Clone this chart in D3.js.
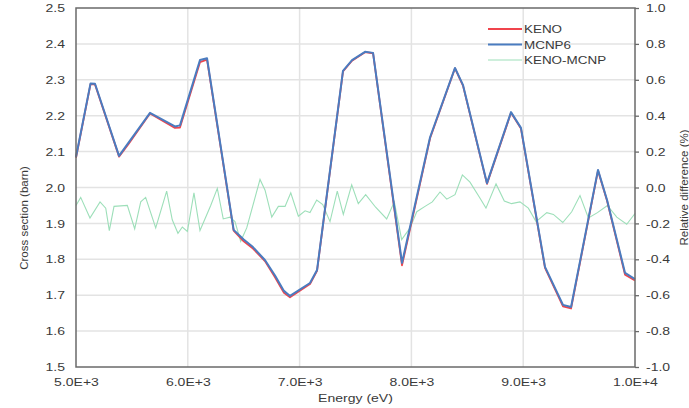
<!DOCTYPE html>
<html>
<head>
<meta charset="utf-8">
<script src="https://cdn.jsdelivr.net/npm/d3@7"></script>
<style>
  html, body { margin: 0; padding: 0; background: #fff; }
  svg { display: block; font-family: "Liberation Sans", Arial, sans-serif; }
</style>
</head>
<body>
<div id="chart"></div>
<script>
// ----------------------------
// Data
// ----------------------------

// energy (eV) and cross section (barn), MCNP6
const mcnpEnergy = [5000, 5130, 5170, 5385, 5470, 5662, 5885, 5930, 6109, 6172, 6410, 6500, 6583, 6690, 6780, 6860, 6914, 7093, 7156, 7388, 7469, 7585, 7657, 7916, 8167, 8390, 8462, 8676, 8891, 8980, 9195, 9356, 9428, 9669, 9750, 9911, 10000];
const mcnpValues = [2.085, 2.290, 2.289, 2.088, 2.125, 2.208, 2.170, 2.173, 2.355, 2.360, 1.882, 1.855, 1.834, 1.798, 1.755, 1.712, 1.698, 1.734, 1.770, 2.325, 2.355, 2.378, 2.375, 1.790, 2.140, 2.333, 2.285, 2.012, 2.210, 2.166, 1.779, 1.673, 1.667, 2.049, 1.965, 1.762, 1.745];

// KENO, same energies
const kenoValues = [2.083, 2.288, 2.287, 2.086, 2.121, 2.206, 2.166, 2.167, 2.349, 2.356, 1.880, 1.850, 1.830, 1.795, 1.750, 1.707, 1.694, 1.731, 1.768, 2.323, 2.353, 2.377, 2.374, 1.783, 2.137, 2.332, 2.283, 2.010, 2.208, 2.164, 1.776, 1.669, 1.663, 2.047, 1.963, 1.757, 1.741];

// relative difference (%), KENO-MCNP
const diffEnergy = [5000, 5042, 5125, 5215, 5266, 5298, 5340, 5459, 5525, 5579, 5623, 5713, 5811, 5861, 5912, 5951, 5996, 6055, 6109, 6205, 6264, 6317, 6377, 6422, 6473, 6527, 6646, 6691, 6751, 6810, 6870, 6921, 6989, 7049, 7093, 7153, 7207, 7272, 7337, 7391, 7466, 7525, 7591, 7680, 7779, 7847, 7913, 7988, 8048, 8122, 8187, 8256, 8316, 8390, 8456, 8524, 8614, 8667, 8757, 8831, 8896, 8971, 9046, 9115, 9211, 9270, 9354, 9434, 9508, 9583, 9664, 9753, 9837, 9926, 10000];
const diffValues = [-0.100, -0.055, -0.170, -0.080, -0.115, -0.240, -0.105, -0.100, -0.230, -0.080, -0.055, -0.225, -0.020, -0.180, -0.255, -0.220, -0.245, -0.030, -0.240, -0.100, -0.005, -0.175, -0.165, -0.190, -0.300, -0.225, 0.045, -0.015, -0.165, -0.105, -0.105, -0.030, -0.160, -0.130, -0.140, -0.070, -0.095, -0.190, -0.020, -0.150, 0.015, -0.090, -0.040, -0.110, -0.175, -0.080, -0.290, -0.225, -0.135, -0.105, -0.080, -0.025, -0.065, -0.040, 0.070, 0.030, -0.060, -0.115, 0.020, -0.075, -0.090, -0.080, -0.115, -0.190, -0.140, -0.150, -0.195, -0.135, -0.045, -0.170, -0.140, -0.100, -0.165, -0.205, -0.145];

// axis ticks
const xTicks = [5000, 6000, 7000, 8000, 9000, 10000];
const xTickLabels = ["5.0E+3", "6.0E+3", "7.0E+3", "8.0E+3", "9.0E+3", "1.0E+4"];
const leftTicks = [1.5, 1.6, 1.7, 1.8, 1.9, 2.0, 2.1, 2.2, 2.3, 2.4, 2.5];
const rightTicks = [-1.0, -0.8, -0.6, -0.4, -0.2, 0.0, 0.2, 0.4, 0.6, 0.8, 1.0];

const seriesNames = ["KENO", "MCNP6", "KENO-MCNP"];
const seriesColors = ["#f0444c", "#4a7cc0", "#9ddfb9"];

// ----------------------------
// Chart
// ----------------------------

const width = 689;
const height = 408;
const marginTop = 8;
const marginRight = 54;
const marginBottom = 41;
const marginLeft = 76;

const x = d3.scaleLinear()
    .domain([5000, 10000])
    .range([marginLeft, width - marginRight]);

const yLeft = d3.scaleLinear()
    .domain([1.5, 2.5])
    .range([height - marginBottom, marginTop]);

const yRight = d3.scaleLinear()
    .domain([-1, 1])
    .range([height - marginBottom, marginTop]);

const svg = d3.select("#chart").append("svg")
    .attr("width", width)
    .attr("height", height)
    .attr("viewBox", [0, 0, width, height]);

// the text in the picture is a bit wider than normal, stretch it sideways
function stretch(sel, origin, k = 1.22) {
    sel.style("transform-box", "fill-box")
        .style("transform-origin", origin)
        .style("transform", `scaleX(${k})`);
}

// grid lines
svg.append("g")
    .attr("stroke", "#e3e3e3")
    .attr("stroke-width", 1.5)
    .selectAll("line")
    .data(leftTicks.slice(1, -1))
    .join("line")
        .attr("x1", marginLeft)
        .attr("x2", width - marginRight)
        .attr("y1", d => yLeft(d))
        .attr("y2", d => yLeft(d));

svg.append("g")
    .attr("stroke", "#e3e3e3")
    .attr("stroke-width", 1.5)
    .selectAll("line")
    .data(xTicks.slice(1, -1))
    .join("line")
        .attr("y1", marginTop)
        .attr("y2", height - marginBottom)
        .attr("x1", d => x(d))
        .attr("x2", d => x(d));

// lines
const diffLine = d3.line()
    .x((d, i) => x(diffEnergy[i]))
    .y(d => yRight(d));

const xsLine = d3.line()
    .x((d, i) => x(mcnpEnergy[i]))
    .y(d => yLeft(d));

svg.append("path")
    .datum(diffValues)
    .attr("fill", "none")
    .attr("stroke", seriesColors[2])
    .attr("stroke-width", 1.1)
    .attr("d", diffLine);

svg.append("path")
    .datum(kenoValues)
    .attr("fill", "none")
    .attr("stroke", seriesColors[0])
    .attr("stroke-width", 1.8)
    .attr("stroke-linejoin", "round")
    .attr("d", xsLine);

svg.append("path")
    .datum(mcnpValues)
    .attr("fill", "none")
    .attr("stroke", seriesColors[1])
    .attr("stroke-width", 2)
    .attr("stroke-linejoin", "round")
    .attr("d", xsLine);

// frame
svg.append("rect")
    .attr("x", marginLeft)
    .attr("y", marginTop)
    .attr("width", width - marginLeft - marginRight)
    .attr("height", height - marginTop - marginBottom)
    .attr("fill", "none")
    .attr("stroke", "#6a6a6a")
    .attr("stroke-width", 1.5);

// axes
const bottomAxis = svg.append("g")
    .attr("transform", `translate(0,${height - marginBottom})`)
    .call(d3.axisBottom(x).tickValues(xTicks).tickSize(0).tickPadding(11)
        .tickFormat((d, i) => xTickLabels[i]));

const leftAxis = svg.append("g")
    .attr("transform", `translate(${marginLeft},0)`)
    .call(d3.axisLeft(yLeft).tickValues(leftTicks).tickSize(0).tickPadding(11)
        .tickFormat(d3.format(".1f")));

const rightAxis = svg.append("g")
    .attr("transform", `translate(${width - marginRight},0)`)
    .call(d3.axisRight(yRight).tickValues(rightTicks).tickSize(4).tickPadding(7)
        .tickFormat(d3.format(".1f")));

[bottomAxis, leftAxis, rightAxis].forEach(g => {
    g.select(".domain").remove();
    g.selectAll("text")
        .attr("fill", "#3a3a3a")
        .style("font-size", "11.5px");
    g.selectAll("line").attr("stroke", "#6a6a6a").attr("stroke-width", 1.3);
});
rightAxis.selectAll("text").text(d => d3.format(".1f")(d).replace("−", "-"));

stretch(bottomAxis.selectAll("text"), "center");
stretch(leftAxis.selectAll("text"), "right");
stretch(rightAxis.selectAll("text"), "left");

// axis titles
svg.append("text")
    .attr("x", (marginLeft + width - marginRight) / 2)
    .attr("y", 402)
    .attr("text-anchor", "middle")
    .attr("fill", "#3a3a3a")
    .style("font-size", "11.5px")
    .text("Energy (eV)")
    .call(stretch, "center");

svg.append("text")
    .attr("transform", "translate(28,218) rotate(-90)")
    .attr("text-anchor", "middle")
    .attr("fill", "#3a3a3a")
    .style("font-size", "11.5px")
    .text("Cross section (barn)");

svg.append("text")
    .attr("transform", `translate(688,${(marginTop + height - marginBottom) / 2}) rotate(-90)`)
    .attr("text-anchor", "middle")
    .attr("fill", "#3a3a3a")
    .style("font-size", "11.5px")
    .text("Relative difference (%)");

// legend
const legend = svg.append("g")
    .selectAll("g")
    .data(seriesNames)
    .join("g")
        .attr("transform", (d, i) => `translate(488,${29 + i * 15.5})`);

legend.append("line")
    .attr("x1", 0)
    .attr("x2", 34)
    .attr("stroke", (d, i) => seriesColors[i])
    .attr("stroke-width", (d, i) => i === 2 ? 1.1 : 2);

legend.append("text")
    .attr("x", 36)
    .attr("dy", "0.35em")
    .attr("fill", "#3a3a3a")
    .style("font-size", "11.5px")
    .text(d => d)
    .call(stretch, "left", 1.17);
</script>
</body>
</html>
